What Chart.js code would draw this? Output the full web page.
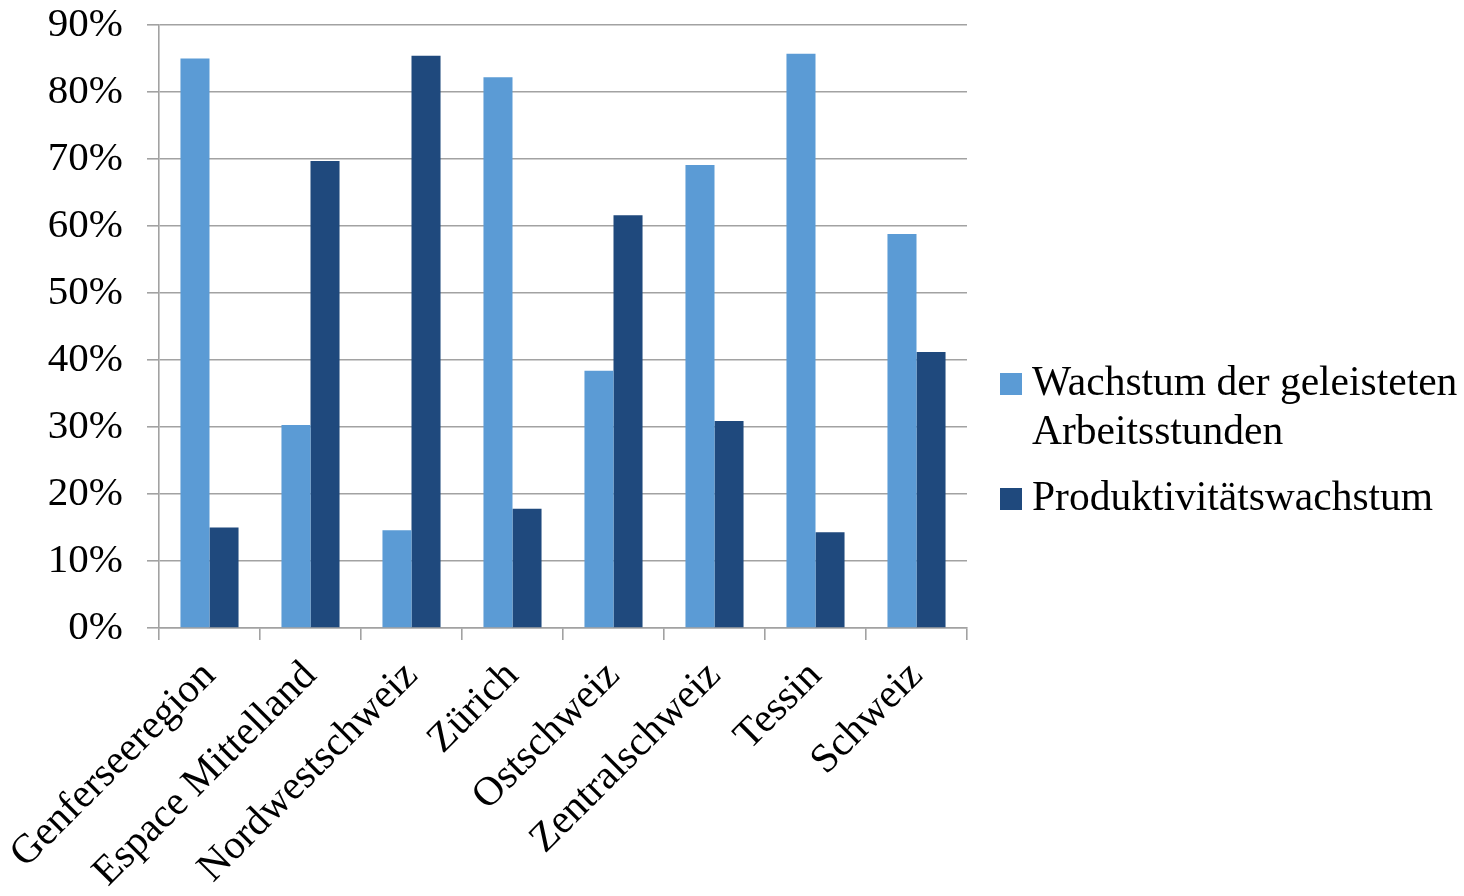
<!DOCTYPE html>
<html>
<head>
<meta charset="utf-8">
<script src="https://cdn.jsdelivr.net/npm/chart.js@4.4.1/dist/chart.umd.min.js"></script>
<style>
  html, body { margin: 0; padding: 0; background: #ffffff; }
  #wrap { width: 1464px; height: 896px; }
</style>
</head>
<body>
<div id="wrap"><canvas id="c" width="1464" height="896"></canvas></div>
<script>
// Regions
const regions = ['Genferseeregion', 'Espace Mittelland', 'Nordwestschweiz', 'Zürich',
                 'Ostschweiz', 'Zentralschweiz', 'Tessin', 'Schweiz'];

// Share of growth (%) per region
const hoursGrowth = [85.0, 30.3, 14.6, 82.2, 38.4, 69.1, 85.7, 58.8];
const productivityGrowth = [15.0, 69.7, 85.4, 17.8, 61.6, 30.9, 14.3, 41.2];

const seriesNames = [['Wachstum der geleisteten', 'Arbeitsstunden'], ['Produktivitätswachstum']];
const yTicks = [0, 10, 20, 30, 40, 50, 60, 70, 80, 90];

const colLight = '#5B9BD5';
const colDark = '#1F497D';
const gridCol = '#a2a2a2';
const FONT = 'Liberation Serif, Times New Roman, serif';

// Legend drawn to the right of the plot, with a wrapped first entry
const sideLegend = {
  id: 'sideLegend',
  afterDraw(chart) {
    const ctx = chart.ctx;
    const ds = chart.data.datasets;
    const x0 = chart.chartArea.right + 33;
    const lineH = 49;
    const itemGap = 17;
    const box = 22;
    let total = 0;
    ds.forEach((d, i) => { total += d.legendLines.length * lineH + (i ? itemGap : 0); });
    let y = chart.height / 2 - 6 - total / 2;
    ctx.save();
    ctx.font = '41.5px ' + FONT;
    ctx.textBaseline = 'alphabetic';
    ctx.textAlign = 'left';
    ds.forEach((d, i) => {
      if (i) y += itemGap;
      const base = y + 35;
      ctx.fillStyle = d.backgroundColor;
      ctx.fillRect(x0, base - 22, box, box);
      ctx.fillStyle = '#000000';
      d.legendLines.forEach((t, k) => {
        ctx.fillText(t, x0 + box + 10, base + k * lineH);
      });
      y += d.legendLines.length * lineH;
    });
    ctx.restore();
  }
};

new Chart(document.getElementById('c'), {
  type: 'bar',
  data: {
    labels: regions,
    datasets: [
      { label: seriesNames[0].join(' '), legendLines: seriesNames[0], data: hoursGrowth,
        backgroundColor: colLight, categoryPercentage: 0.575, barPercentage: 1.0 },
      { label: seriesNames[1].join(' '), legendLines: seriesNames[1], data: productivityGrowth,
        backgroundColor: colDark, categoryPercentage: 0.575, barPercentage: 1.0 }
    ]
  },
  options: {
    responsive: false,
    animation: false,
    devicePixelRatio: 1,
    layout: { padding: { top: 25, right: 497, left: 0, bottom: 0 } },
    plugins: { legend: { display: false }, tooltip: { enabled: false } },
    scales: {
      x: {
        grid: { display: true, drawOnChartArea: false, drawTicks: true, tickLength: 12,
                color: gridCol, lineWidth: 1.6, offset: true },
        border: { display: true, color: gridCol, width: 1.6 },
        ticks: { color: '#000000', font: { family: FONT, size: 41 },
                 minRotation: 45, maxRotation: 45, padding: 12, autoSkip: false },
        afterFit(scale) {
          scale.height = 268;
          scale.paddingLeft = 0;
          scale.paddingRight = 0;
        }
      },
      y: {
        min: 0, max: 90,
        afterBuildTicks(scale) { scale.ticks = yTicks.map(v => ({ value: v })); },
        grid: { color: gridCol, lineWidth: 1.6, tickLength: 12, drawTicks: true },
        border: { display: true, color: gridCol, width: 1.6 },
        ticks: { color: '#000000', font: { family: FONT, size: 41 }, padding: 24,
                 callback: v => v + '%' },
        afterFit(scale) {
          scale.width = 159;
          scale.paddingTop = 0;
          scale.paddingBottom = 0;
        }
      }
    }
  },
  plugins: [sideLegend]
});
</script>
</body>
</html>
